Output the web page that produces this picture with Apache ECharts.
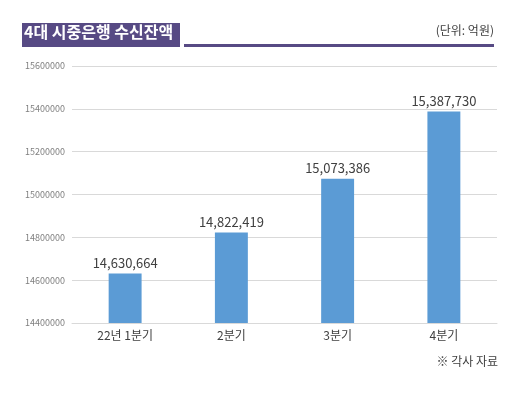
<!DOCTYPE html>
<html>
<head>
<meta charset="utf-8">
<script src="https://cdn.jsdelivr.net/npm/echarts@6/dist/echarts.min.js"></script>
<style>
  html, body { margin: 0; padding: 0; background: #fff; }
  #chart { width: 530px; height: 397px; }
</style>
</head>
<body>
<div id="chart"></div>
<script>
var quarters = ['22년 1분기', '2분기', '3분기', '4분기'];
var deposits = [14630664, 14822419, 15073386, 15387730];
var yMin = 14400000, yMax = 15600000, yStep = 200000;

var font = '"Noto Sans CJK KR", "Noto Sans", sans-serif';
var purple = '#574a84';

var chart = echarts.init(document.getElementById('chart'));
var option = {
    backgroundColor: '#fff',
    animation: false,
    textStyle: { fontFamily: font },
    grid: { left: 72, right: 33, top: 66, bottom: 74 },
    xAxis: {
        type: 'category',
        data: quarters,
        axisLine: { lineStyle: { color: '#d9d9d9' } },
        axisTick: { show: false },
        axisLabel: { color: '#404040', fontSize: 12, margin: 6 }
    },
    yAxis: {
        type: 'value',
        min: yMin,
        max: yMax,
        interval: yStep,
        axisLine: { show: false },
        axisTick: { show: false },
        splitLine: { lineStyle: { color: '#d9d9d9' } },
        axisLabel: { color: '#7f7f7f', fontSize: 9, margin: 7, formatter: function (v) { return String(v); } }
    },
    series: [{
        type: 'bar',
        data: deposits,
        barWidth: '31%',
        itemStyle: { color: '#5b9bd5' },
        label: {
            show: true,
            position: 'top',
            distance: 4,
            color: '#404040',
            fontSize: 13,
            formatter: function (p) { return p.value.toLocaleString('en-US'); }
        }
    }],
    graphic: [
        { type: 'rect', shape: { x: 22, y: 23, width: 158, height: 24 }, style: { fill: purple } },
        { type: 'text', left: 24, top: 24, style: { text: '4대 시중은행 수신잔액', fill: '#fff', font: 'bold 16px ' + font } },
        { type: 'rect', shape: { x: 184, y: 44, width: 310, height: 3 }, style: { fill: purple } },
        { type: 'text', right: 36, top: 24, style: { text: '(단위: 억원)', fill: '#404040', font: '12px ' + font } },
        { type: 'text', right: 32, top: 355, style: { text: '※ 각사 자료', fill: '#404040', font: '12px ' + font } }
    ]
};
chart.setOption(option);
window.addEventListener('resize', chart.resize);
</script>
</body>
</html>
